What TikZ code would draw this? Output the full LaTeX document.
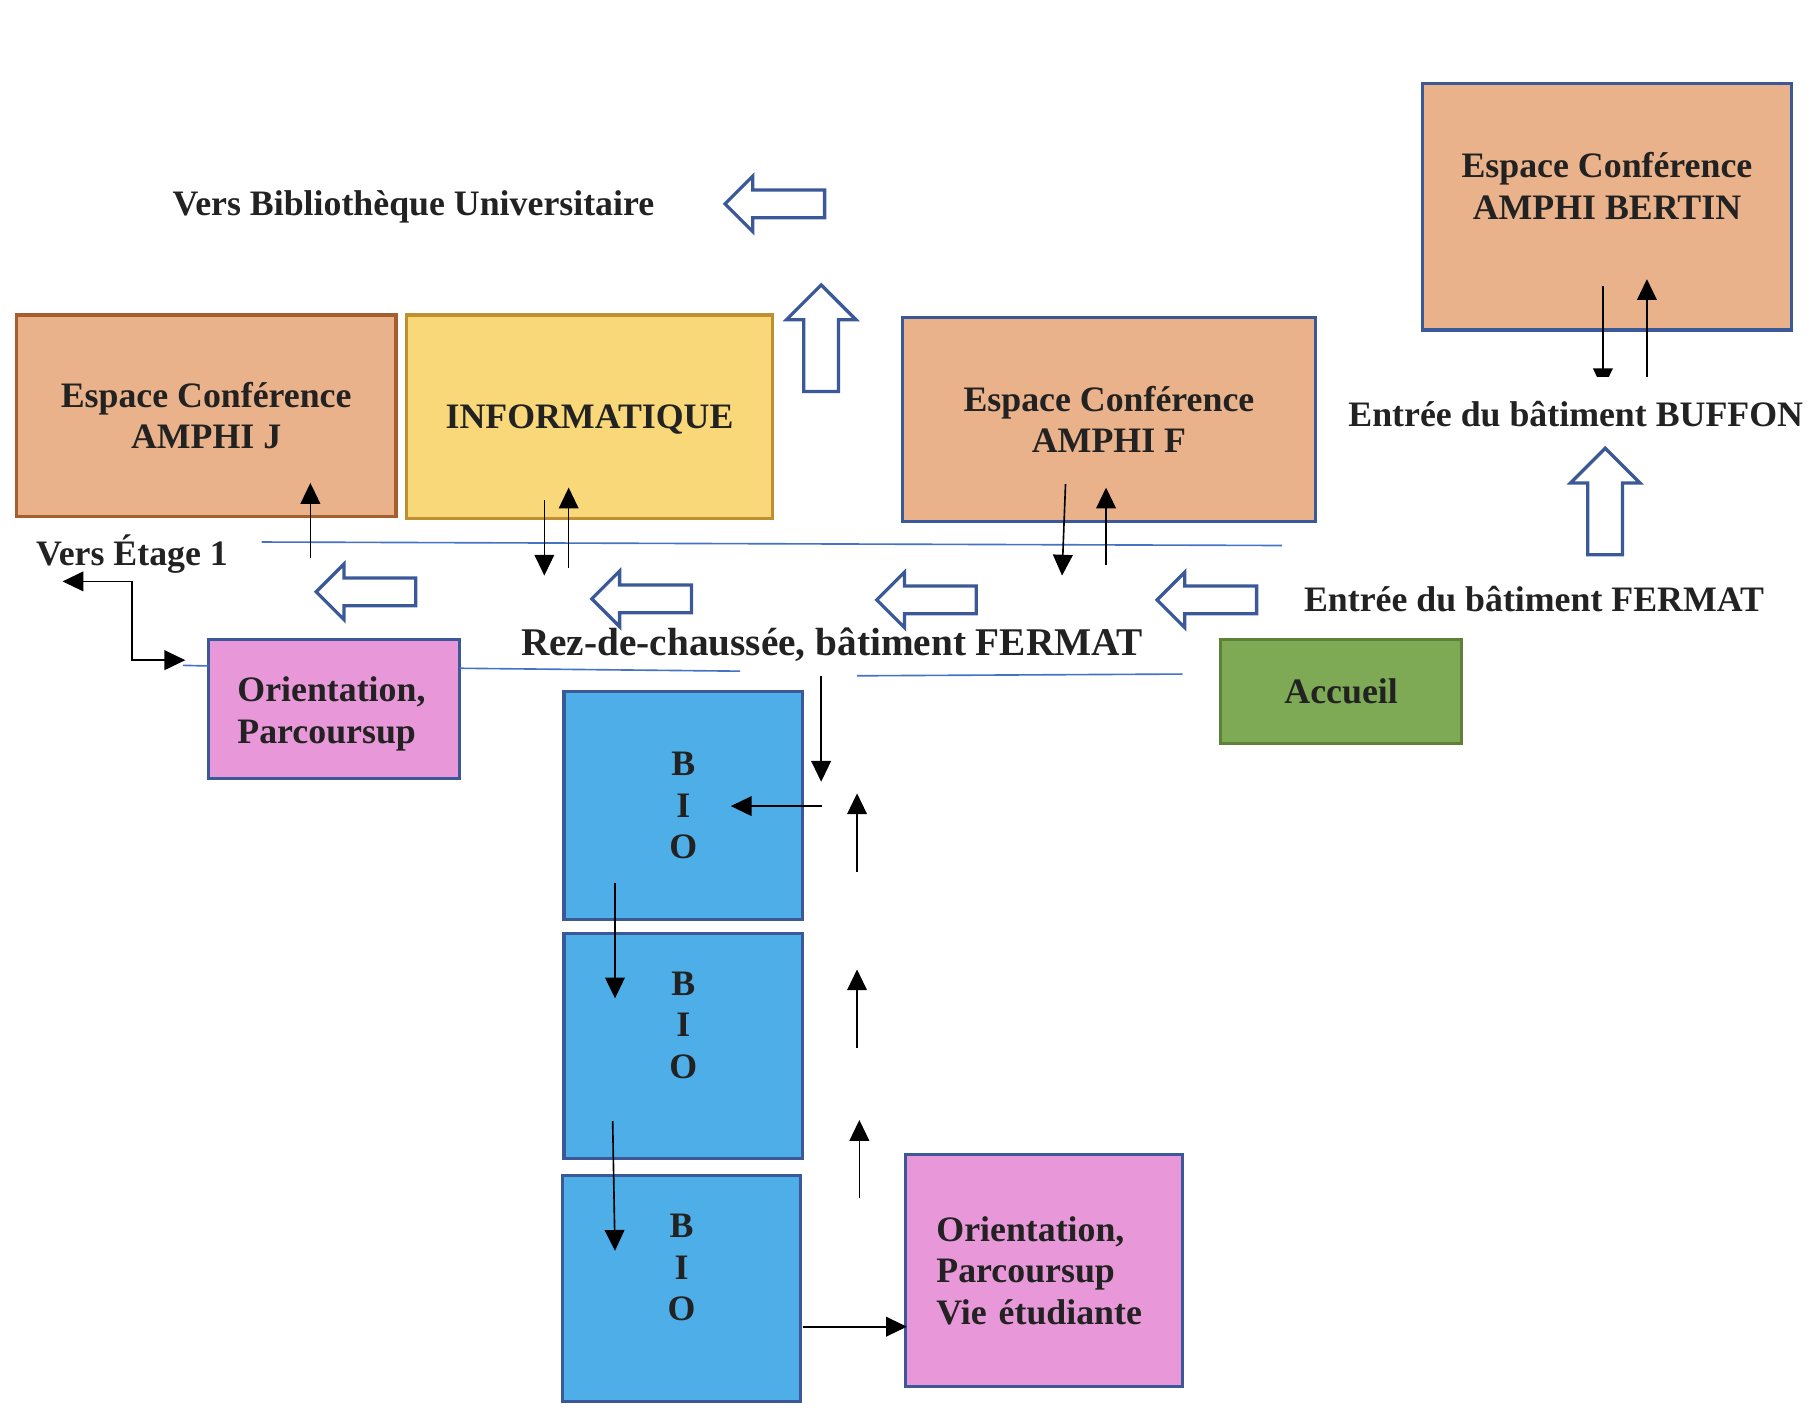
\documentclass[tikz,border=0pt]{standalone}
\usepackage{fontspec}
\setmainfont{Liberation Serif}
\usetikzlibrary{arrows.meta,positioning}

\definecolor{saumon}{HTML}{E9B28A}
\definecolor{jaune}{HTML}{F8D878}
\definecolor{rose}{HTML}{E898D8}
\definecolor{bio}{HTML}{4EAEE8}
\definecolor{vert}{HTML}{7EAA56}
\definecolor{bleubord}{HTML}{3B5998}
\definecolor{brun}{HTML}{A65E2E}
\definecolor{ocre}{HTML}{BF9030}
\definecolor{vertbord}{HTML}{5E8038}
\definecolor{ligne}{HTML}{4472C4}
\definecolor{texte}{HTML}{222222}

\newcommand{\police}{\fontsize{17.6pt}{20.4pt}\selectfont\bfseries}
\newcommand{\grand}{\fontsize{19.3pt}{22pt}\selectfont\bfseries}

\tikzset{
  >={Triangle[length=0.36cm,width=0.34cm]},
  salle/.style={line width=1.6pt, align=center, font=\police, text=texte},
  etiquette/.style={font=\police, text=texte},
  fleche/.style={->, line width=0.8pt},
  couloir/.style={draw=ligne, line width=0.8pt},
  creuse/.style={draw=bleubord, fill=white, line width=1.6pt},
  pics/versgauche/.style={code={
    \draw[creuse] (0,0) -- (24,-24) -- (24,-12) -- (86,-12) -- (86,12) -- (24,12) -- (24,24) -- cycle;}},
  pics/vershaut/.style={code={
    \draw[creuse] (0,0) -- (30,30) -- (15,30) -- (15,92) -- (-15,92) -- (-15,30) -- (-30,30) -- cycle;}}
}

\begin{document}
\begin{tikzpicture}[x=0.02cm, y=-0.02cm]
    \useasboundingbox (0,0) rectangle (1568,1224.3);

    % Salles
    \node[salle, fill=saumon, draw=brun, minimum width=6.56cm, minimum height=3.48cm] (amphiJ) at (178,359) {Espace Conférence\\AMPHI J};
    \node[salle, fill=jaune, draw=ocre, minimum width=6.32cm, minimum height=3.52cm, text depth=0pt] (info) at (509,360) {INFORMATIQUE};
    \node[salle, fill=saumon, draw=bleubord, minimum width=7.14cm, minimum height=3.52cm] (amphiF) at (957.5,362) {Espace Conférence\\AMPHI F};
    \node[salle, fill=saumon, draw=bleubord, minimum width=6.38cm, minimum height=4.26cm] (bertin) at (1387.5,178.5) {Espace Conférence\\AMPHI BERTIN\\\mbox{}};
    \node[salle, fill=rose, draw=bleubord, minimum width=4.34cm, minimum height=2.4cm, align=left, text width=3.34cm] (orient) at (288.5,612) {\rule{0pt}{0.6cm}Orientation,\\Parcoursup};
    \node[salle, fill=vert, draw=vertbord, minimum width=4.16cm, minimum height=1.8cm] (accueil) at (1158,597) {Accueil};
    \foreach \x/\y/\h/\d [count=\i] in {590/695.5/3.94/0pt, 590/903/3.88/0.72cm, 588.5/1112.5/3.9/0.72cm}
        \node[salle, fill=bio, draw=bleubord, minimum width=4.12cm, minimum height=\h cm, text depth=\d] (bio\i) at (\x,\y) {B\\I\\O};
    \node[salle, fill=rose, draw=bleubord, minimum width=4.78cm, minimum height=4cm, align=left, text width=3.72cm] (vie) at (901.5,1097) {Orientation,\\Parcoursup\\Vie étudiante};

    % Couloirs
    \draw[couloir] (226,468) -- (1107,471);
    \draw[couloir] (158,574.5) -- (180,575);
    \draw[couloir] (397,577) -- (639,579.5);
    \draw[couloir] (740,583.5) -- (1021,582);

    % Buffon
    \coordinate (b1) at (1384,247); \coordinate (b2) at (1384,336);
    \coordinate (b3) at (1422,326); \coordinate (b4) at (1422,241);
    \draw[fleche] (b1) -- (b2); \draw[fleche] (b3) -- (b4);
    \node[etiquette, fill=white, inner ysep=0.41cm, anchor=base] (buffon) at (1360.5,368) {Entrée du bâtiment BUFFON};

    % Textes
    \node[etiquette, anchor=base] (biblio) at (357,186) {Vers Bibliothèque Universitaire};
    \node[etiquette, anchor=base] (fermat) at (1324.5,528) {Entrée du bâtiment FERMAT};
    \node[etiquette, anchor=base] (etage) at (114,488.5) {Vers Étage 1};
    \node[etiquette, anchor=base, font=\grand] (rdc) at (718.5,566) {Rez-de-chaussée, bâtiment FERMAT};

    % Grosses fleches
    \pic (g0) at (626,176) {versgauche};
    \foreach \x/\y [count=\i] in {273/511, 511/517, 757/518, 999/518}
        \pic (g\i) at (\x,\y) {versgauche};
    \pic (h1) at (709,246) {vershaut};
    \pic (h2) at (1386,387) {vershaut};

    % Fleches fines
    \coordinate (j1) at (268,482); \coordinate (j2) at (268,417);
    \coordinate (i1) at (470,432); \coordinate (i2) at (470,497);
    \coordinate (i3) at (491,490); \coordinate (i4) at (491,421);
    \coordinate (f1) at (920,418); \coordinate (f2) at (917,497);
    \coordinate (f3) at (955,488); \coordinate (f4) at (955,421);
    \draw[fleche] (j1) -- (j2);
    \draw[fleche] (i1) -- (i2); \draw[fleche] (i3) -- (i4);
    \draw[fleche] (f1) -- (f2); \draw[fleche] (f3) -- (f4);

    \coordinate (etg) at (54,502); \coordinate (ori) at (160,570);
    \draw[fleche, <->] (etg) -- ++(60,0) |- (ori);

    \coordinate (r1) at (709,584); \coordinate (r2) at (709,675);
    \coordinate (r3) at (710,696); \coordinate (r4) at (631,696);
    \draw[fleche] (r1) -- (r2); \draw[fleche] (r3) -- (r4);
    \foreach \ya/\yb/\xx [count=\i] in {753/685/740, 905/837/740, 1034/967/742} {
        \coordinate (m\i) at (\xx,\ya); \coordinate (n\i) at (\xx,\yb);
        \draw[fleche] (m\i) -- (n\i);
    }
    \coordinate (d1) at (531,762); \coordinate (d2) at (531,862);
    \coordinate (d3) at (529,968); \coordinate (d4) at (531,1080);
    \coordinate (v1) at (693,1145.5); \coordinate (v2) at (783,1145.5);
    \draw[fleche] (d1) -- (d2); \draw[fleche] (d3) -- (d4);
    \draw[fleche] (v1) -- (v2);
\end{tikzpicture}
\end{document}
